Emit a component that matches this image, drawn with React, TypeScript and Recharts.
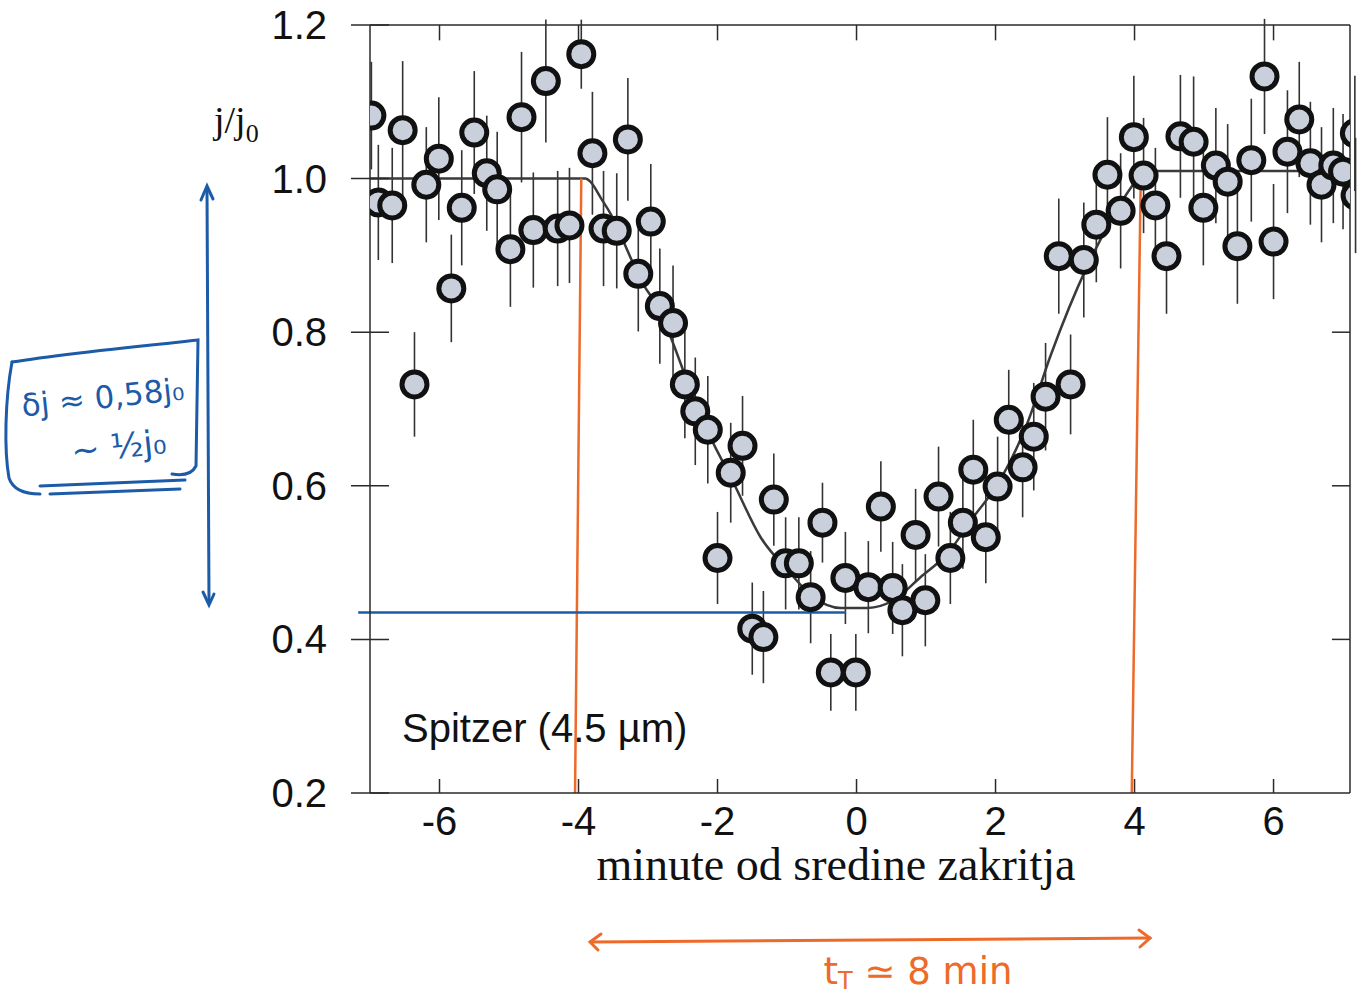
import { ComposedChart, ErrorBar, Line, ReferenceLine, Scatter, XAxis, YAxis } from "recharts";

// minutes from mid-eclipse, relative flux j/j0, error
const minutes = [
  -6.98, -6.88, -6.68, -6.53, -6.36, -6.19, -6.01, -5.83, -5.68, -5.5, -5.32, -5.17, -4.98, -4.82, -4.65,
  -4.47, -4.3, -4.13, -3.96, -3.8, -3.64, -3.45, -3.29, -3.14, -2.96, -2.83, -2.64, -2.47, -2.32, -2.14,
  -2.0, -1.81, -1.64, -1.5, -1.34, -1.19, -1.02, -0.83, -0.66, -0.49, -0.37, -0.16, -0.01, 0.17, 0.35,
  0.52, 0.66, 0.85, 0.99, 1.18, 1.35, 1.53, 1.68, 1.86, 2.03, 2.19, 2.39, 2.55, 2.72, 2.91, 3.08, 3.27,
  3.45, 3.61, 3.8, 3.99, 4.13, 4.3, 4.46, 4.66, 4.85, 4.99, 5.17, 5.34, 5.48, 5.68, 5.87, 6.0, 6.2, 6.37,
  6.53, 6.69, 6.86, 7.0, 7.17, 7.18,
];
const flux = [
  1.082, 0.969, 0.965, 1.063, 0.732, 0.992, 1.026, 0.857, 0.962, 1.06, 1.007, 0.986, 0.908, 1.08, 0.933,
  1.127, 0.935, 0.939, 1.162, 1.033, 0.935, 0.932, 1.051, 0.876, 0.944, 0.834, 0.812, 0.732, 0.697, 0.673,
  0.506, 0.617, 0.652, 0.414, 0.403, 0.582, 0.499, 0.499, 0.455, 0.552, 0.357, 0.48, 0.357, 0.468, 0.573,
  0.467, 0.438, 0.536, 0.451, 0.586, 0.506, 0.552, 0.621, 0.533, 0.599, 0.686, 0.624, 0.664, 0.716, 0.899,
  0.732, 0.894, 0.94, 1.005, 0.958, 1.054, 1.004, 0.965, 0.899, 1.055, 1.048, 0.962, 1.017, 0.996, 0.912,
  1.024, 1.133, 0.918, 1.035, 1.077, 1.02, 0.992, 1.017, 1.009, 1.059, 0.978,
];
const fluxErr = [
  0.07, 0.075, 0.075, 0.09, 0.068, 0.075, 0.08, 0.07, 0.075, 0.08, 0.075, 0.075, 0.075, 0.085, 0.075,
  0.08, 0.075, 0.075, 0.045, 0.08, 0.075, 0.075, 0.08, 0.075, 0.075, 0.075, 0.075, 0.07, 0.07, 0.07,
  0.06, 0.065, 0.065, 0.06, 0.06, 0.06, 0.06, 0.06, 0.06, 0.052, 0.05, 0.06, 0.05, 0.06, 0.059,
  0.06, 0.06, 0.06, 0.06, 0.065, 0.06, 0.06, 0.065, 0.06, 0.065, 0.065, 0.065, 0.07, 0.07, 0.075,
  0.065, 0.075, 0.075, 0.075, 0.075, 0.08, 0.075, 0.075, 0.075, 0.08, 0.085, 0.075, 0.075, 0.075, 0.075,
  0.08, 0.075, 0.075, 0.08, 0.075, 0.08, 0.075, 0.075, 0.075, 0.075, 0.075,
];

// fitted eclipse curve
const fitMinutes = [
  -7.0, -3.9, -3.83, -3.68, -3.5, -3.29, -3.11, -2.82, -2.68, -2.24, -1.77, -1.38, -0.99, -0.62, -0.23,
  0.16, 0.53, 0.92, 1.31, 1.68, 2.07, 2.46, 2.79, 3.32, 3.65, 3.94, 4.12, 4.3, 7.1,
];
const fitFlux = [
  1.0, 1.0, 0.996, 0.975, 0.948, 0.905, 0.869, 0.826, 0.795, 0.69, 0.604, 0.533, 0.49, 0.455, 0.441,
  0.441, 0.451, 0.481, 0.512, 0.559, 0.608, 0.682, 0.769, 0.886, 0.944, 0.987, 1.007, 1.01, 1.01,
];

const xTicks = [-6, -4, -2, 0, 2, 4, 6];
const yTicks = [0.2, 0.4, 0.6, 0.8, 1.0, 1.2];
const rightTicks = [0.4, 0.6, 0.8];

// hand-drawn marks: ingress/egress times and the eclipse depth level
const ingress = [{ x: -3.96, y: 1.0 }, { x: -4.05, y: 0.2 }];
const egress = [{ x: 4.09, y: 1.005 }, { x: 3.96, y: 0.2 }];
const depthLevel = [{ x: -7.17, y: 0.435 }, { x: -0.15, y: 0.435 }];

const points = minutes.map((x, i) => ({ x, y: flux[i], err: fluxErr[i] }));
const fit = fitMinutes.map((x, i) => ({ x, y: fitFlux[i] }));

const SANS = "'Liberation Sans', Arial, sans-serif";
const SERIF = "'Liberation Serif', 'Times New Roman', serif";
const HAND = "'DejaVu Sans', sans-serif";
const INK = "#2a2a2a";
const ORANGE = "#ee6a2a";
const BLUE = "#1c5ba7";

function LeftTick({ x, y, payload }: any) {
  return (
    <g>
      <line x1={x - 19} x2={x + 19} y1={y} y2={y} stroke={INK} strokeWidth={1.5} />
      <text x={x - 43} y={y + 14} textAnchor="end" fontSize={40} fontFamily={SANS} fill="#111">
        {Number(payload.value).toFixed(1)}
      </text>
    </g>
  );
}

function BottomTick({ x, y, payload }: any) {
  return (
    <g>
      <line x1={x} x2={x} y1={y} y2={y - 14} stroke={INK} strokeWidth={1.5} />
      <text x={x} y={y + 42} textAnchor="middle" fontSize={40} fontFamily={SANS} fill="#111">
        {payload.value}
      </text>
    </g>
  );
}

function Dot({ cx, cy }: any) {
  if (cx == null || cy == null) return null;
  return <circle cx={cx} cy={cy} r={12.5} fill="#c9d0dc" stroke="#111" strokeWidth={5} />;
}

export default function App() {
  return (
    <div style={{ position: "absolute", left: 0, top: 0, width: 1363, height: 1002, background: "#fff" }}>
      <ComposedChart width={1363} height={1002} margin={{ top: 25, right: 13, bottom: 149, left: 0 }}>
        <XAxis
          type="number"
          dataKey="x"
          domain={[-7, 7.1]}
          ticks={xTicks}
          allowDataOverflow
          tickSize={0}
          tickMargin={0}
          tick={<BottomTick />}
          height={60}
          axisLine={{ stroke: INK, strokeWidth: 1.5 }}
        />
        <YAxis
          type="number"
          dataKey="y"
          domain={[0.2, 1.2]}
          ticks={yTicks}
          allowDataOverflow
          tickSize={0}
          tickMargin={0}
          tick={<LeftTick />}
          width={370}
          axisLine={{ stroke: INK, strokeWidth: 1.5 }}
        />
        <ReferenceLine y={1.2} stroke={INK} strokeWidth={1.5} />
        <ReferenceLine x={7.1} stroke={INK} strokeWidth={1.5} />
        {xTicks.map((t) => (
          <ReferenceLine key={"tt" + t} segment={[{ x: t, y: 1.2 }, { x: t, y: 1.18 }]} stroke={INK} strokeWidth={1.5} />
        ))}
        {rightTicks.map((t) => (
          <ReferenceLine key={"rt" + t} segment={[{ x: 7.1, y: t }, { x: 6.84, y: t }]} stroke={INK} strokeWidth={1.5} />
        ))}
        <Scatter data={points} dataKey="y" shape={<Dot />} isAnimationActive={false}>
          <ErrorBar dataKey="err" direction="y" width={0} stroke="#333" strokeWidth={1.6} isAnimationActive={false} />
        </Scatter>
        <Line
          data={fit}
          dataKey="y"
          type="monotone"
          dot={false}
          stroke="#3a3a3a"
          strokeWidth={2.5}
          isAnimationActive={false}
        />
        <ReferenceLine segment={ingress} stroke={ORANGE} strokeWidth={2.5} />
        <ReferenceLine segment={egress} stroke={ORANGE} strokeWidth={2.5} />
        <ReferenceLine segment={depthLevel} stroke={BLUE} strokeWidth={2.5} ifOverflow="visible" />
      </ComposedChart>

      {/* labels and the handwritten notes */}
      <svg
        width={1363}
        height={1002}
        style={{ position: "absolute", left: 0, top: 0, pointerEvents: "none" }}
      >
        <text x={214} y={133} fontSize={38} fontFamily={SERIF} fill="#111">
          j/j<tspan fontSize={26} dy={9}>0</tspan>
        </text>
        <text x={836} y={880} textAnchor="middle" fontSize={46} fontFamily={SERIF} fill="#111">
          minute od sredine zakritja
        </text>
        <text x={402} y={742} fontSize={40} fontFamily={SANS} fill="#111">
          Spitzer (4.5 µm)
        </text>

        <g stroke={BLUE} strokeWidth={3} fill="none" strokeLinecap="round">
          <line x1={207} y1={188} x2={209} y2={603} />
          <path d="M 201 200 L 207 186 L 213 199" />
          <path d="M 203 592 L 209 605 L 214 594" />
          <path d="M 12 362 C 60 354, 140 346, 198 340 L 196 466 C 192 474, 184 476, 172 474" />
          <path d="M 12 362 C 5 400, 4 450, 9 478 C 13 490, 24 494, 40 494" />
          <path d="M 40 486 L 185 480" />
          <path d="M 50 494 L 180 489" />
        </g>
        <text x={104} y={408} textAnchor="middle" fontSize={31} fontFamily={HAND} fill={BLUE} transform="rotate(-6 104 408)">
          δj ≈ 0,58j₀
        </text>
        <text x={120} y={458} textAnchor="middle" fontSize={34} fontFamily={HAND} fill={BLUE} transform="rotate(-6 120 458)">
          ~ ½j₀
        </text>

        <g stroke={ORANGE} strokeWidth={3} fill="none" strokeLinecap="round">
          <line x1={592} y1={942} x2={1150} y2={938} />
          <path d="M 601 934 L 590 942 L 598 950" />
          <path d="M 1139 930 L 1150 938 L 1140 947" />
        </g>
        <text x={918} y={984} textAnchor="middle" fontSize={37} fontFamily={HAND} fill={ORANGE}>
          t<tspan fontSize={24} dy={5}>T</tspan>
          <tspan dy={-5}> ≃ 8 min</tspan>
        </text>
      </svg>
    </div>
  );
}
